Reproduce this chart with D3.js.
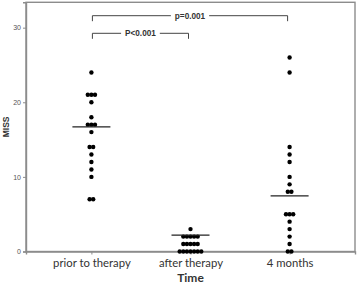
<!DOCTYPE html>
<html>
<head>
<meta charset="utf-8">
<script src="https://cdn.jsdelivr.net/npm/d3@7"></script>
<style>
  html, body { margin: 0; padding: 0; background: #fff; }
  svg { display: block; }
</style>
</head>
<body>
<svg id="chart" width="358" height="284"></svg>
<script>
// ---- data ----
const categories = ["prior to therapy", "after therapy", "4 months"];
const priorValues = [24, 21, 21, 21, 20, 18, 17, 17, 17, 16, 14, 14, 13, 12, 11, 10, 7, 7];
const afterValues = [3, 2, 2, 2, 2, 2, 1, 1, 1, 1, 1, 0, 0, 0, 0, 0, 0, 0];
const monthsValues = [26, 24, 14, 13, 12, 10, 9, 8, 8, 5, 5, 5, 4, 3, 2, 1, 0, 0];
const centerLines = [16.7, 2.2, 7.45];
const yTicks = [0, 10, 20, 30];
const comparisons = [
  { from: "prior to therapy", to: "4 months", label: "p=0.001" },
  { from: "prior to therapy", to: "after therapy", label: "P<0.001" }
];
const yLabel = "MISS";
const xLabel = "Time";

// ---- layout ----
const svg = d3.select("#chart");
const mLeft = 26, mRight = 355, mTop = 2.3, mBottom = 251.5;

const x = d3.scalePoint().domain(categories).range([mLeft, mRight]).padding(0.66);
const y = d3.scaleLinear().domain([0, 33.4]).range([mBottom, mTop]);

const axisColor = "#8c8c8c";

// frame (top and right)
svg.append("rect")
  .attr("x", mLeft).attr("y", mTop)
  .attr("width", mRight - mLeft).attr("height", mBottom - mTop)
  .attr("fill", "none").attr("stroke", axisColor).attr("stroke-width", 1.4);

// y axis
const yAxis = svg.append("g")
  .attr("transform", `translate(${mLeft},0)`)
  .call(d3.axisLeft(y).tickValues(yTicks).tickSize(3).tickPadding(2).tickFormat(d3.format("d")));
yAxis.select(".domain").attr("stroke", axisColor).attr("stroke-width", 1.4);
yAxis.selectAll(".tick line").attr("stroke", axisColor);
yAxis.selectAll(".tick text")
  .attr("font-family", "Liberation Sans, Arial, sans-serif")
  .attr("font-size", 7).attr("fill", "#555");

// x axis
const xAxis = svg.append("g")
  .attr("transform", `translate(0,${mBottom})`)
  .call(d3.axisBottom(x).tickSize(3).tickPadding(4));
xAxis.select(".domain").attr("stroke", axisColor).attr("stroke-width", 1.4);
xAxis.selectAll(".tick line").attr("stroke", axisColor);
xAxis.selectAll(".tick text")
  .attr("font-family", "Lato, sans-serif")
  .attr("font-size", 11.3).attr("fill", "#333");

// axis titles
svg.append("text")
  .attr("transform", `translate(9,${(mTop + mBottom) / 2}) rotate(-90)`)
  .attr("text-anchor", "middle")
  .attr("font-family", "Liberation Sans, Arial, sans-serif")
  .attr("font-weight", "bold").attr("font-size", 8.5).attr("fill", "#333")
  .text(yLabel);

svg.append("text")
  .attr("x", x("after therapy")).attr("y", 281.5)
  .attr("text-anchor", "middle")
  .attr("font-family", "Lato, sans-serif")
  .attr("font-weight", "bold").attr("font-size", 12).attr("fill", "#333")
  .text(xLabel);

// ---- dots (centered swarm) ----
const series = [priorValues, afterValues, monthsValues];
const spacing = 3.6, r = 2.2;
const dots = [];
series.forEach((vals, i) => {
  const groups = d3.group(vals, v => v);
  groups.forEach((arr, v) => {
    const n = arr.length;
    arr.forEach((_, k) => {
      dots.push({ cat: categories[i], v, off: (k - (n - 1) / 2) * spacing });
    });
  });
});
svg.append("g").selectAll("circle").data(dots).join("circle")
  .attr("cx", d => x(d.cat) + d.off)
  .attr("cy", d => y(d.v))
  .attr("r", r)
  .attr("fill", "#000");

// center lines
svg.append("g").selectAll("line").data(categories).join("line")
  .attr("x1", (c) => x(c) - 19).attr("x2", (c) => x(c) + 19)
  .attr("y1", (c, i) => y(centerLines[i])).attr("y2", (c, i) => y(centerLines[i]))
  .attr("stroke", "#222").attr("stroke-width", 1.1);

// ---- comparison brackets ----
const bracketY = [15.7, 33.3];
const drop = 5.5;
comparisons.forEach((c, i) => {
  const by = bracketY[i];
  const x1 = x(c.from) + 1, x2 = x(c.to) - 2;
  const g = svg.append("g");
  const t = g.append("text")
    .attr("x", (x1 + x2) / 2).attr("y", by + 2.9)
    .attr("text-anchor", "middle")
    .attr("font-family", "Liberation Sans, Arial, sans-serif")
    .attr("font-weight", "bold").attr("font-size", 8.2).attr("fill", "#333")
    .text(c.label);
  const w = t.node().getComputedTextLength();
  const gap = 4;
  const mid = (x1 + x2) / 2;
  g.append("path")
    .attr("d", `M${x1},${by + drop}V${by}H${mid - w / 2 - gap}M${mid + w / 2 + gap},${by}H${x2}V${by + drop}`)
    .attr("fill", "none").attr("stroke", "#444").attr("stroke-width", 1);
});
</script>
</body>
</html>
